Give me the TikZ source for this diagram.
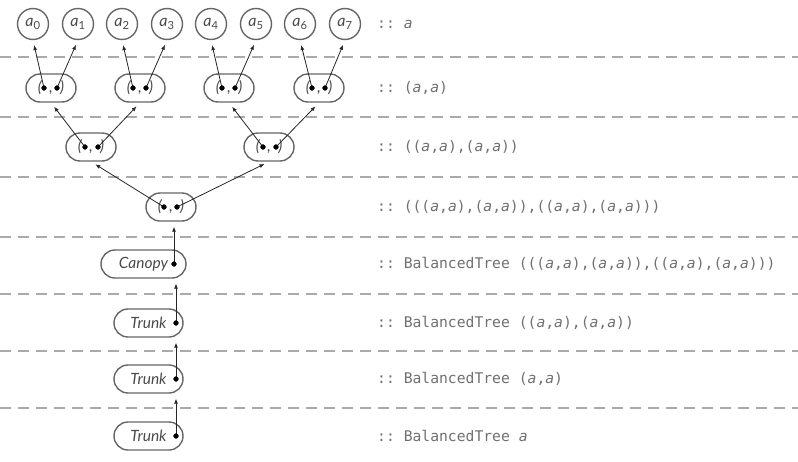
\documentclass[tikz,border=0pt]{standalone}
\usepackage{fontspec}
\setmainfont{Lato}
\setmonofont{DejaVu Sans Mono}
\usetikzlibrary{arrows.meta}
\definecolor{borde}{HTML}{666666}
\definecolor{letra}{HTML}{4A4A4A}
\definecolor{tipo}{HTML}{707070}
\definecolor{raya}{HTML}{AAAAAA}
\newcommand{\tva}{\textit{a}}
\begin{document}
\begin{tikzpicture}[x=1pt,y=-1pt,
    hoja/.style={circle,draw=borde,line width=1.4pt,minimum size=31pt,inner sep=0pt,text=letra,font=\fontsize{16}{16}\selectfont},
    par/.style={draw=borde,line width=1.4pt,rounded corners=14pt,minimum width=50pt,minimum height=28pt,inner sep=0pt,text=letra,font=\fontsize{15.5}{16}\selectfont\itshape},
    tronco/.style={par,minimum width=69pt},
    copa/.style={par,minimum width=85pt},
    flecha/.style={-{Latex[length=5pt,width=4pt]},line width=0.8pt,draw=black!85,shorten >=5pt},
    separa/.style={draw=raya,line width=1.3pt,dash pattern=on 11pt off 7pt},
    tipo/.style={anchor=west,inner sep=0pt,text=tipo,font=\fontsize{14.7}{16}\selectfont\ttfamily}]
    % Arbol balanceado por niveles
    \useasboundingbox (0,0) rectangle (798,461);

    \draw[separa] (0,57) -- (798,57);
    \draw[separa] (0,117) -- (798,117);
    \draw[separa] (0,177) -- (798,177);
    \draw[separa] (0,237) -- (798,237);
    \draw[separa] (0,294) -- (798,294);
    \draw[separa] (0,351) -- (798,351);
    \draw[separa] (0,408) -- (798,408);

    \node[hoja] (A0) at (33,24) {\tva\textsubscript{0}};
    \node[hoja] (A1) at (78,24) {\tva\textsubscript{1}};
    \node[hoja] (A2) at (122,24) {\tva\textsubscript{2}};
    \node[hoja] (A3) at (167,24) {\tva\textsubscript{3}};
    \node[hoja] (A4) at (211,24) {\tva\textsubscript{4}};
    \node[hoja] (A5) at (256,24) {\tva\textsubscript{5}};
    \node[hoja] (A6) at (300,24) {\tva\textsubscript{6}};
    \node[hoja] (A7) at (345,24) {\tva\textsubscript{7}};

    \node[par] (P0) at (51,88) {(\hspace{7.5pt},\hspace{7.5pt})};
    \node[par] (P1) at (140,88) {(\hspace{7.5pt},\hspace{7.5pt})};
    \node[par] (P2) at (229,88) {(\hspace{7.5pt},\hspace{7.5pt})};
    \node[par] (P3) at (319,88) {(\hspace{7.5pt},\hspace{7.5pt})};
    \node[par] (Q0) at (91,147) {(\hspace{7.5pt},\hspace{7.5pt})};
    \node[par] (Q1) at (269,147) {(\hspace{7.5pt},\hspace{7.5pt})};
    \node[par] (R) at (171,207) {(\hspace{7.5pt},\hspace{7.5pt})};
    \node[copa] (C) at (143.5,264) {Canopy\hspace{5pt}};
    \node[tronco] (T1) at (148.5,323) {Trunk};
    \node[tronco] (T2) at (148.5,379) {Trunk};
    \node[tronco] (T3) at (148.5,436) {Trunk};

    \coordinate (P0i) at (44,88);
    \coordinate (P0d) at (57,88);
    \coordinate (P1i) at (133,88);
    \coordinate (P1d) at (146,88);
    \coordinate (P2i) at (222,88);
    \coordinate (P2d) at (235,88);
    \coordinate (P3i) at (312,88);
    \coordinate (P3d) at (325,88);
    \coordinate (Q0i) at (85,147);
    \coordinate (Q0d) at (98,147);
    \coordinate (Q1i) at (263,147);
    \coordinate (Q1d) at (276,147);
    \coordinate (Ri) at (164,207);
    \coordinate (Rd) at (177,207);
    \coordinate (Cd) at (174,264);
    \coordinate (T1d) at (176,323);
    \coordinate (T2d) at (176,379);
    \coordinate (T3d) at (176,436);

    \draw[flecha] (P0i) -- (A0.south);
    \draw[flecha] (P0d) -- (A1.south);
    \draw[flecha] (P1i) -- (A2.south);
    \draw[flecha] (P1d) -- (A3.south);
    \draw[flecha] (P2i) -- (A4.south);
    \draw[flecha] (P2d) -- (A5.south);
    \draw[flecha] (P3i) -- (A6.south);
    \draw[flecha] (P3d) -- (A7.south);
    \draw[flecha] (Q0i) -- (P0.south);
    \draw[flecha] (Q0d) -- (P1.south);
    \draw[flecha] (Q1i) -- (P2.south);
    \draw[flecha] (Q1d) -- (P3.south);
    \draw[flecha] (Ri) -- (Q0.south);
    \draw[flecha] (Rd) -- (Q1.south);
    \draw[flecha] (Cd) -- (Cd |- R.south);
    \draw[flecha] (T1d) -- (T1d |- C.south);
    \draw[flecha] (T2d) -- (T2d |- T1.south);
    \draw[flecha] (T3d) -- (T3d |- T2.south);

    \filldraw (P0i) circle (2.4pt);
    \filldraw (P0d) circle (2.4pt);
    \filldraw (P1i) circle (2.4pt);
    \filldraw (P1d) circle (2.4pt);
    \filldraw (P2i) circle (2.4pt);
    \filldraw (P2d) circle (2.4pt);
    \filldraw (P3i) circle (2.4pt);
    \filldraw (P3d) circle (2.4pt);
    \filldraw (Q0i) circle (2.4pt);
    \filldraw (Q0d) circle (2.4pt);
    \filldraw (Q1i) circle (2.4pt);
    \filldraw (Q1d) circle (2.4pt);
    \filldraw (Ri) circle (2.4pt);
    \filldraw (Rd) circle (2.4pt);
    \filldraw (Cd) circle (2.4pt);
    \filldraw (T1d) circle (2.4pt);
    \filldraw (T2d) circle (2.4pt);
    \filldraw (T3d) circle (2.4pt);

    \node[tipo] (L0) at (377,24) {:: \tva};
    \node[tipo] (L1) at (377,88) {:: (\tva,\tva)};
    \node[tipo] (L2) at (377,147) {:: ((\tva,\tva),(\tva,\tva))};
    \node[tipo] (L3) at (377,207) {:: (((\tva,\tva),(\tva,\tva)),((\tva,\tva),(\tva,\tva)))};
    \node[tipo] (L4) at (377,264) {:: BalancedTree (((\tva,\tva),(\tva,\tva)),((\tva,\tva),(\tva,\tva)))};
    \node[tipo] (L5) at (377,323) {:: BalancedTree ((\tva,\tva),(\tva,\tva))};
    \node[tipo] (L6) at (377,379) {:: BalancedTree (\tva,\tva)};
    \node[tipo] (L7) at (377,436) {:: BalancedTree \tva};
\end{tikzpicture}
\end{document}
